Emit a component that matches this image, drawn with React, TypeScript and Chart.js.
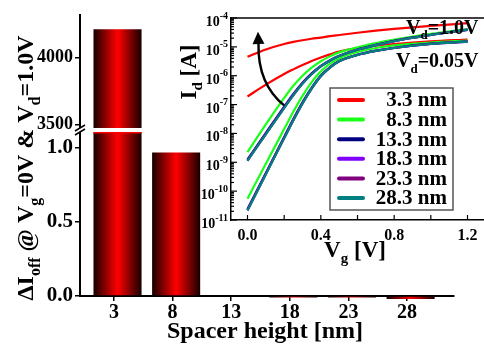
import React, { useEffect, useRef } from 'react';
import { Chart, registerables } from 'chart.js';

Chart.register(...registerables);

const FONT = '"Liberation Serif", "Times New Roman", serif';

// ---------- main bar chart data ----------
const spacerHeightsNm = [3.3, 8.3, 13.3, 18.3, 23.3, 28.3];
const spacerTickLabels = [3, 8, 13, 18, 23, 28];
const deltaIoff = [4210, 0.97, 0, -0.01, -0.01, -0.02];
const lowAxisTicks = [0, 0.5, 1.0];
const highAxisTicks = [3500, 4000];
const LOW_MIN = 0;
const LOW_MAX = 1.122;
const HIGH_MIN = 3460;
const HIGH_MAX = 4320;

// ---------- inset Id-Vg data (log10 of Id in A) ----------
const vgVolts = [0, 0.1, 0.2, 0.25, 0.3, 0.35, 0.4, 0.45, 0.5, 0.6, 0.7, 0.8, 1.0, 1.2];
const logId_3_3_vd1 = [-5.34, -5.09, -4.9, -4.83, -4.77, -4.72, -4.68, -4.63, -4.59, -4.51, -4.44, -4.38, -4.27, -4.18];
const logId_3_3_vd005 = [-6.72, -6.31, -5.94, -5.78, -5.63, -5.49, -5.37, -5.26, -5.16, -5.04, -4.96, -4.9, -4.81, -4.75];
const logId_8_3_vd1 = [-8.65, -7.69, -6.77, -6.35, -6.0, -5.72, -5.5, -5.33, -5.19, -5.02, -4.87, -4.75, -4.55, -4.38];
const logId_8_3_vd005 = [-10.26, -9.05, -7.85, -7.25, -6.7, -6.22, -5.85, -5.58, -5.4, -5.18, -5.04, -4.95, -4.85, -4.78];
const logId_13_3_vd1 = [-8.9, -7.98, -7.07, -6.63, -6.24, -5.92, -5.66, -5.46, -5.31, -5.09, -4.93, -4.79, -4.58, -4.4];
const logId_13_3_vd005 = [-10.62, -9.37, -8.12, -7.5, -6.92, -6.41, -5.99, -5.7, -5.49, -5.27, -5.13, -5.03, -4.89, -4.81];
const logId_18_3_vd1 = [-8.93, -8.01, -7.1, -6.66, -6.26, -5.94, -5.67, -5.47, -5.32, -5.1, -4.94, -4.8, -4.59, -4.41];
const logId_18_3_vd005 = [-10.65, -9.4, -8.15, -7.53, -6.95, -6.44, -6.01, -5.71, -5.5, -5.28, -5.14, -5.04, -4.9, -4.82];
const logId_23_3_vd1 = [-8.94, -8.02, -7.11, -6.67, -6.27, -5.95, -5.68, -5.48, -5.32, -5.1, -4.94, -4.8, -4.59, -4.41];
const logId_23_3_vd005 = [-10.66, -9.41, -8.16, -7.54, -6.96, -6.45, -6.02, -5.72, -5.5, -5.28, -5.14, -5.04, -4.9, -4.82];
const logId_28_3_vd1 = [-8.95, -8.03, -7.12, -6.68, -6.28, -5.95, -5.68, -5.48, -5.32, -5.1, -4.94, -4.8, -4.59, -4.41];
const logId_28_3_vd005 = [-10.67, -9.42, -8.17, -7.55, -6.97, -6.45, -6.02, -5.72, -5.5, -5.28, -5.14, -5.04, -4.9, -4.82];

const seriesLabels = ['3.3 nm', '8.3 nm', '13.3 nm', '18.3 nm', '23.3 nm', '28.3 nm'];
const seriesColors = ['#ff0000', '#1aff1a', '#000080', '#8000ff', '#800080', '#008080'];
const seriesVd1 = [logId_3_3_vd1, logId_8_3_vd1, logId_13_3_vd1, logId_18_3_vd1, logId_23_3_vd1, logId_28_3_vd1];
const seriesVd005 = [logId_3_3_vd005, logId_8_3_vd005, logId_13_3_vd005, logId_18_3_vd005, logId_23_3_vd005, logId_28_3_vd005];

const idDecadeExponents = [-11, -10, -9, -8, -7, -6, -5, -4];
const vgTickValues = [0, 0.2, 0.4, 0.6, 0.8, 1.0, 1.2];
const VG_MIN = -0.09;
const VG_MAX = 1.29;

// annotation anchors (data coordinates of the inset)
const vd1Label = { vg: 1.26, logId: -4.55 };
const vd005Label = { vg: 1.26, logId: -5.7 };
const arrowTail = { vg: 0.2, logId: -7.03 };
const arrowCtrl = { vg: 0.055, logId: -6.28 };
const arrowHeadBase = { vg: 0.06, logId: -4.9 };
const arrowTip = { vg: 0.057, logId: -4.48 };

type Seg = { t: string; sub?: boolean; sup?: boolean };

function drawRich(
  ctx: CanvasRenderingContext2D,
  segs: Seg[],
  x: number,
  y: number,
  size: number,
  align: 'left' | 'center' | 'right',
  rotate = 0
) {
  const small = Math.round(size * 0.65);
  const fontFor = (s: Seg) => `bold ${s.sub || s.sup ? small : size}px ${FONT}`;
  let total = 0;
  const widths = segs.map((s) => {
    ctx.font = fontFor(s);
    const w = ctx.measureText(s.t).width;
    total += w;
    return w;
  });
  ctx.save();
  ctx.translate(x, y);
  if (rotate) ctx.rotate(rotate);
  let cx = align === 'left' ? 0 : align === 'center' ? -total / 2 : -total;
  ctx.textBaseline = 'alphabetic';
  ctx.textAlign = 'left';
  ctx.fillStyle = '#000';
  segs.forEach((s, i) => {
    ctx.font = fontFor(s);
    const dy = s.sub ? size * 0.28 : s.sup ? -size * 0.42 : 0;
    ctx.fillText(s.t, cx, dy);
    cx += widths[i];
  });
  ctx.restore();
}

const lowValues = deltaIoff.map((v) => Math.min(v, LOW_MAX));
const highValues = deltaIoff.map((v) => (v >= HIGH_MIN ? v : null));

function barGradient(c: any) {
  const el = c.element;
  if (!el || typeof el.x !== 'number' || !isFinite(el.x) || !el.width) return '#ff0000';
  const g = c.chart.ctx.createLinearGradient(el.x - el.width / 2, 0, el.x + el.width / 2, 0);
  g.addColorStop(0, '#160000');
  g.addColorStop(0.5, '#ff0000');
  g.addColorStop(1, '#160000');
  return g;
}

const mainDecor = {
  id: 'mainDecor',
  afterDraw(chart: any) {
    const ctx: CanvasRenderingContext2D = chart.ctx;
    const yl = chart.scales.yLow;
    const b = yl.top;
    const axisX = yl.right;
    const metaHigh = chart.getDatasetMeta(1);
    metaHigh.data.forEach((el: any, i: number) => {
      if (highValues[i] == null) return;
      const l = el.x - el.width / 2;
      ctx.fillStyle = '#fff';
      ctx.fillRect(l - 1, b - 2, el.width + 2, 4);
      ctx.fillStyle = '#ff0000';
      ctx.fillRect(l, b + 2, el.width, 1.5);
    });
    ctx.fillStyle = '#fff';
    ctx.fillRect(axisX - 2, b - 2, 4, 4);
    ctx.strokeStyle = '#000';
    ctx.lineWidth = 1.5;
    [-2, 2].forEach((k) => {
      ctx.beginPath();
      ctx.moveTo(axisX - 5, b + k + 3);
      ctx.lineTo(axisX + 5, b + k - 3);
      ctx.stroke();
    });
    const ca = chart.chartArea;
    drawRich(
      ctx,
      [
        { t: '\u0394I' },
        { t: 'off', sub: true },
        { t: ' @ V' },
        { t: 'g', sub: true },
        { t: '=0V & V' },
        { t: 'd', sub: true },
        { t: '=1.0V' },
      ],
      33,
      168,
      24,
      'center',
      -Math.PI / 2
    );
    drawRich(ctx, [{ t: 'Spacer height [nm]' }], (ca.left + ca.right) / 2 - 2, 338, 24, 'center');
  },
};

const insetDecor = {
  id: 'insetDecor',
  afterDraw(chart: any) {
    const ctx: CanvasRenderingContext2D = chart.ctx;
    const ca = chart.chartArea;
    const xs = chart.scales.x;
    const ys = chart.scales.y;
    const px = (p: { vg: number; logId: number }) => [xs.getPixelForValue(p.vg), ys.getPixelForValue(p.logId)];
    ctx.save();
    // top frame line
    ctx.strokeStyle = '#000';
    ctx.lineWidth = 1.5;
    ctx.beginPath();
    ctx.moveTo(ca.left, ca.top);
    ctx.lineTo(ca.right, ca.top);
    ctx.stroke();
    // inward ticks
    ctx.lineWidth = 1.2;
    vgTickValues.forEach((v) => {
      const x = xs.getPixelForValue(v);
      ctx.beginPath();
      ctx.moveTo(x, ca.bottom);
      ctx.lineTo(x, ca.bottom - 5);
      ctx.stroke();
    });
    idDecadeExponents.forEach((e, i) => {
      const y = ys.getPixelForValue(e);
      ctx.beginPath();
      ctx.moveTo(ca.left, y);
      ctx.lineTo(ca.left + 6, y);
      ctx.stroke();
      if (i < idDecadeExponents.length - 1) {
        for (let k = 2; k <= 9; k++) {
          const ym = ys.getPixelForValue(e + Math.log10(k));
          ctx.beginPath();
          ctx.moveTo(ca.left, ym);
          ctx.lineTo(ca.left + 3, ym);
          ctx.stroke();
        }
      }
      // label 10^e
      const xr = ca.left - 3;
      ctx.fillStyle = '#000';
      ctx.textBaseline = 'alphabetic';
      ctx.textAlign = 'left';
      ctx.font = `bold 10px ${FONT}`;
      const sup = String(e);
      const ws = ctx.measureText(sup).width;
      ctx.font = `bold 14px ${FONT}`;
      const wb = ctx.measureText('10').width;
      ctx.fillText('10', xr - ws - wb, y + 8);
      ctx.font = `bold 10px ${FONT}`;
      ctx.fillText(sup, xr - ws, y + 0.5);
    });
    // axis titles
    drawRich(ctx, [{ t: 'I' }, { t: 'd', sub: true }, { t: ' [A]' }], 36, 72, 23, 'center', -Math.PI / 2);
    drawRich(ctx, [{ t: 'V' }, { t: 'g', sub: true }, { t: ' [V]' }], 195, 257, 23, 'center');
    // Vd annotations
    const [ax1, ay1] = px(vd1Label);
    drawRich(ctx, [{ t: 'V' }, { t: 'd', sub: true }, { t: '=1.0V' }], ax1, ay1, 20, 'right');
    const [ax2, ay2] = px(vd005Label);
    drawRich(ctx, [{ t: 'V' }, { t: 'd', sub: true }, { t: '=0.05V' }], ax2, ay2, 20, 'right');
    // arrow
    const [tx, ty] = px(arrowTail);
    const [cx, cy] = px(arrowCtrl);
    const [hx, hy] = px(arrowHeadBase);
    const [pxx, pyy] = px(arrowTip);
    ctx.strokeStyle = '#000';
    ctx.lineWidth = 2.4;
    ctx.beginPath();
    ctx.moveTo(tx, ty);
    ctx.quadraticCurveTo(cx, cy, hx, hy);
    ctx.stroke();
    const ang = Math.atan2(pyy - hy, pxx - hx);
    const nx = Math.cos(ang + Math.PI / 2);
    const ny = Math.sin(ang + Math.PI / 2);
    ctx.fillStyle = '#000';
    ctx.beginPath();
    ctx.moveTo(pxx, pyy);
    ctx.lineTo(hx + nx * 6, hy + ny * 6);
    ctx.lineTo(hx - nx * 6, hy - ny * 6);
    ctx.closePath();
    ctx.fill();
    // legend
    const lx = ca.left + 99;
    const ly = 88;
    const lw = 123;
    const lh = 122;
    ctx.fillStyle = '#fff';
    ctx.fillRect(lx, ly, lw, lh);
    ctx.strokeStyle = '#555';
    ctx.lineWidth = 1.5;
    ctx.strokeRect(lx, ly, lw, lh);
    seriesLabels.forEach((lab, i) => {
      const yy = ly + 12 + i * 19.6;
      ctx.strokeStyle = seriesColors[i];
      ctx.lineWidth = 4;
      ctx.lineCap = 'round';
      ctx.beginPath();
      ctx.moveTo(lx + 9, yy);
      ctx.lineTo(lx + 33, yy);
      ctx.stroke();
      ctx.fillStyle = '#000';
      ctx.font = `bold 21px ${FONT}`;
      ctx.textAlign = 'right';
      ctx.textBaseline = 'middle';
      ctx.fillText(lab, lx + lw - 6, yy + 1);
    });
    ctx.restore();
  },
};

export default function App() {
  const mainRef = useRef<HTMLCanvasElement>(null);
  const insetRef = useRef<HTMLCanvasElement>(null);

  useEffect(() => {
    const axisFont = (size: number) => ({ family: FONT, size, weight: 'bold' as const });
    const main = new Chart(mainRef.current!, {
      type: 'bar',
      data: {
        datasets: [
          {
            data: spacerHeightsNm.map((x, i) => ({ x, y: lowValues[i] })),
            yAxisID: 'yLow',
            xAxisID: 'x',
            backgroundColor: barGradient,
            borderWidth: 0,
            grouped: false,
            clip: false as any,
            barPercentage: 0.82,
            categoryPercentage: 1,
          } as any,
          {
            data: spacerHeightsNm.map((x, i) => ({ x, y: highValues[i] })),
            yAxisID: 'yHigh',
            xAxisID: 'x',
            base: HIGH_MIN,
            backgroundColor: barGradient,
            borderWidth: 0,
            grouped: false,
            barPercentage: 0.82,
            categoryPercentage: 1,
          } as any,
        ],
      },
      options: {
        responsive: false,
        animation: false,
        devicePixelRatio: 1,
        layout: { padding: { top: 7, right: 30, left: 0, bottom: 0 } },
        plugins: { legend: { display: false }, tooltip: { enabled: false } },
        scales: {
          x: {
            type: 'linear',
            min: 0.1,
            max: 32,
            offset: false,
            z: 1,
            afterBuildTicks: (s: any) => {
              s.ticks = spacerTickLabels.map((v) => ({ value: v }));
            },
            ticks: { font: axisFont(20), color: '#000', padding: 0, maxRotation: 0, autoSkip: false, callback: (v: any) => String(v) },
            grid: { offset: false, drawOnChartArea: false, tickLength: 5, color: '#000', lineWidth: 1.5 },
            border: { color: '#000', width: 2 },
            afterFit: (s: any) => {
              s.height = 49;
            },
          },
          yLow: {
            type: 'linear',
            position: 'left',
            stack: 'y',
            stackWeight: 170.5,
            weight: 0,
            min: LOW_MIN,
            max: LOW_MAX,
            afterBuildTicks: (s: any) => {
              s.ticks = lowAxisTicks.map((v) => ({ value: v }));
            },
            ticks: { font: axisFont(21), color: '#000', padding: 2, callback: (v: any) => Number(v).toFixed(1) },
            grid: { drawOnChartArea: false, tickLength: 5, color: '#000', lineWidth: 1.5 },
            border: { color: '#000', width: 2 },
            afterFit: (s: any) => {
              s.width = 80;
            },
          },
          yHigh: {
            type: 'linear',
            position: 'left',
            stack: 'y',
            stackWeight: 118.5,
            weight: 1,
            min: HIGH_MIN,
            max: HIGH_MAX,
            afterBuildTicks: (s: any) => {
              s.ticks = highAxisTicks.map((v) => ({ value: v }));
            },
            ticks: { font: axisFont(18), color: '#000', padding: 2, callback: (v: any) => String(v) },
            grid: { drawOnChartArea: false, tickLength: 5, color: '#000', lineWidth: 1.5 },
            border: { color: '#000', width: 2 },
            afterFit: (s: any) => {
              s.width = 80;
            },
          },
        } as any,
      },
      plugins: [mainDecor],
    });
    main.update();

    const order = [5, 4, 3, 2, 1, 0];
    const datasets: any[] = [];
    order.forEach((i) => {
      [seriesVd1[i], seriesVd005[i]].forEach((arr) => {
        datasets.push({
          label: seriesLabels[i],
          data: vgVolts.map((x, j) => ({ x, y: arr[j] })),
          borderColor: seriesColors[i],
          borderWidth: 2.2,
          pointRadius: 0,
          cubicInterpolationMode: 'monotone',
          fill: false,
        });
      });
    });

    const inset = new Chart(insetRef.current!, {
      type: 'line',
      data: { datasets },
      options: {
        responsive: false,
        animation: false,
        devicePixelRatio: 1,
        layout: { padding: { top: 18, right: 0, left: 0, bottom: 0 } },
        plugins: { legend: { display: false }, tooltip: { enabled: false } },
        scales: {
          x: {
            type: 'linear',
            min: VG_MIN,
            max: VG_MAX,
            afterBuildTicks: (s: any) => {
              s.ticks = vgTickValues.map((v) => ({ value: v }));
            },
            ticks: {
              font: axisFont(16),
              color: '#000',
              padding: 6,
              maxRotation: 0,
              autoSkip: false,
              callback: (v: any, i: number) => (i % 2 === 0 ? Number(v).toFixed(1) : ''),
            },
            grid: { display: false, drawTicks: false },
            border: { color: '#000', width: 1.5 },
            afterFit: (s: any) => {
              s.height = 50;
            },
          },
          y: {
            type: 'linear',
            min: idDecadeExponents[0],
            max: idDecadeExponents[idDecadeExponents.length - 1],
            afterBuildTicks: (s: any) => {
              s.ticks = idDecadeExponents.map((v) => ({ value: v }));
            },
            ticks: { display: false },
            grid: { display: false, drawTicks: false },
            border: { color: '#000', width: 1.5 },
            afterFit: (s: any) => {
              s.width = 71;
            },
          },
        } as any,
      },
      plugins: [insetDecor],
    });

    return () => {
      main.destroy();
      inset.destroy();
    };
  }, []);

  return (
    <div style={{ position: 'fixed', left: 0, top: 0, width: 484, height: 345, background: '#fff', overflow: 'hidden' }}>
      <canvas ref={mainRef} width={484} height={345} style={{ position: 'absolute', left: 0, top: 0, width: 484, height: 345 }} />
      <canvas ref={insetRef} width={324} height={270} style={{ position: 'absolute', left: 160, top: 0, width: 324, height: 270 }} />
    </div>
  );
}
